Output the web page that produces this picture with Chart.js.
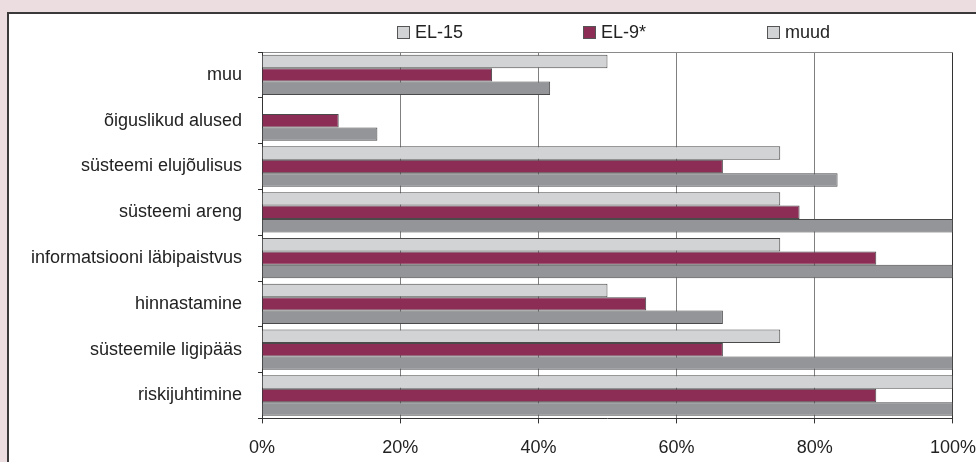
<!DOCTYPE html>
<html lang="et">
<head>
  <meta charset="UTF-8">
  <title>EL-15 / EL-9* / muud</title>
  <script src="https://cdn.jsdelivr.net/npm/chart.js"></script>
  <style>
    body {
      margin: 0;
      width: 976px;
      height: 462px;
      overflow: hidden;
      background: #ecdde1;
      font-family: 'Liberation Sans', Arial, sans-serif;
    }

    .frame {
      position: absolute;
      left: 7px;
      top: 12px;
      width: 1000px;
      height: 500px;
      background: #fff;
      border: 2px solid #3a3a3a;
    }

    #chart {
      position: absolute;
      left: 9px;
      top: 14px;
    }

    .legend-item {
      position: absolute;
      top: 23px;
      font-size: 18px;
      color: #222;
      line-height: 18px;
      white-space: nowrap;
    }

    .legend-item span {
      display: inline-block;
      width: 11px;
      height: 11px;
      border: 1px solid #555;
      margin-right: 5px;
      vertical-align: -1px;
    }
  </style>
</head>
<body>
  <div class="frame"></div>
  <canvas id="chart" width="981" height="459"></canvas>
  <div id="legend"></div>

  <script>
    // categories, top to bottom
    const categories = [
      'muu',
      'õiguslikud alused',
      'süsteemi elujõulisus',
      'süsteemi areng',
      'informatsiooni läbipaistvus',
      'hinnastamine',
      'süsteemile ligipääs',
      'riskijuhtimine'
    ];

    const seriesNames = ['EL-15', 'EL-9*', 'muud'];

    // values in %
    const el15 = [50, 0, 75, 75, 75, 50, 75, 100];
    const el9 = [33.3, 11.1, 66.7, 77.8, 88.9, 55.6, 66.7, 88.9];
    const muud = [41.7, 16.7, 83.3, 100, 100, 66.7, 100, 100];

    const xTickLabels = ['0%', '20%', '40%', '60%', '80%', '100%'];

    const barColors = ['#d2d3d5', '#8c2d56', '#939598'];
    // the legend swatch for "muud" is light grey in the original
    const legendColors = ['#d2d3d5', '#8c2d56', '#d2d3d5'];
    const legendLeft = [397, 583, 767];

    // html legend
    const legend = document.getElementById('legend');
    seriesNames.forEach((name, i) => {
      const item = document.createElement('div');
      item.className = 'legend-item';
      item.style.left = legendLeft[i] + 'px';
      const box = document.createElement('span');
      box.style.background = legendColors[i];
      item.appendChild(box);
      item.appendChild(document.createTextNode(name));
      legend.appendChild(item);
    });

    const font = { family: "'Liberation Sans', Arial, sans-serif", size: 18 };

    new Chart(document.getElementById('chart'), {
      type: 'bar',
      data: {
        labels: categories,
        datasets: [el15, el9, muud].map((d, i) => ({
          label: seriesNames[i],
          data: d,
          backgroundColor: barColors[i],
          borderColor: '#4a4a4a',
          borderWidth: 1,
          categoryPercentage: 0.88,
          barPercentage: 1
        }))
      },
      options: {
        indexAxis: 'y',
        responsive: false,
        animation: false,
        layout: { padding: { top: 38, right: 11, left: 0, bottom: 0 } },
        plugins: {
          legend: { display: false },
          tooltip: { enabled: false }
        },
        scales: {
          x: {
            min: 0,
            max: 100,
            ticks: {
              stepSize: 20,
              font: font,
              color: '#222',
              padding: 14,
              callback: (v, i) => xTickLabels[i]
            },
            grid: {
              color: ctx => ctx.index === 5 ? '#333' : '#808080',
              tickColor: '#333',
              tickLength: 5
            },
            border: { color: '#333' }
          },
          y: {
            ticks: {
              font: font,
              color: '#222',
              padding: 16
            },
            grid: {
              offset: true,
              color: ctx => ctx.index === 0 ? '#8a8a8a' : 'rgba(0,0,0,0)',
              tickColor: '#333',
              tickLength: 4
            },
            border: { color: '#333' },
            afterFit: scale => { scale.width = 253; }
          }
        }
      }
    });
  </script>
</body>
</html>
